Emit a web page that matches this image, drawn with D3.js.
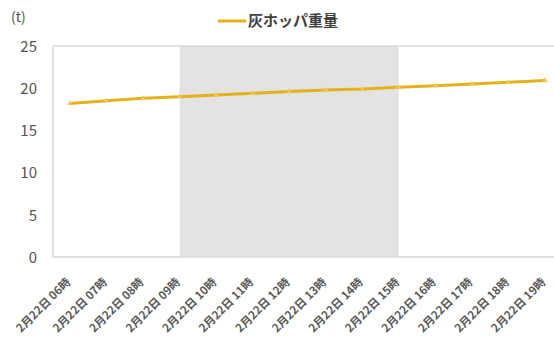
<!DOCTYPE html>
<html>
<head>
<meta charset="utf-8">
<script src="https://cdn.jsdelivr.net/npm/d3@7/dist/d3.min.js"></script>
<style>
  html, body { margin: 0; padding: 0; background: #fff; }
  svg { display: block; }
  text { font-family: "Noto Sans CJK JP", "Noto Sans", sans-serif; }
</style>
</head>
<body>
<svg id="chart" width="554" height="338"></svg>
<script>
// Hourly readings on 22 Feb
const hours = ["06", "07", "08", "09", "10", "11", "12", "13", "14", "15", "16", "17", "18", "19"];
const categories = hours.map(h => `2月22日 ${h}時`);
const weights = [18.2, 18.5, 18.8, 19.0, 19.2, 19.4, 19.6, 19.8, 19.9, 20.1, 20.3, 20.5, 20.7, 20.9];
const yTicks = [0, 5, 10, 15, 20, 25];
const seriesName = "灰ホッパ重量";
const unitLabel = "(t)";
// Shaded period
const shadeFrom = "2月22日 09時";
const shadeTo = "2月22日 15時";

const width = 554, height = 338;
const plot = { left: 53, right: 554, top: 46, bottom: 257 };

const svg = d3.select("#chart");

const x = d3.scalePoint()
  .domain(categories)
  .range([plot.left + 17, plot.right - 9]);

const y = d3.scaleLinear()
  .domain([0, 25])
  .range([plot.bottom, plot.top]);

// shaded period band
svg.append("rect")
  .attr("x", x(shadeFrom))
  .attr("y", plot.top)
  .attr("width", x(shadeTo) - x(shadeFrom))
  .attr("height", plot.bottom - plot.top)
  .attr("fill", "#e4e2e2");

// frame lines
const frame = svg.append("g").attr("stroke", "#d9d9d9").attr("stroke-width", 1.5);
frame.append("line").attr("x1", plot.left).attr("x2", plot.right).attr("y1", plot.top).attr("y2", plot.top);
frame.append("line").attr("x1", plot.left).attr("x2", plot.right).attr("y1", plot.bottom).attr("y2", plot.bottom);
frame.append("line").attr("x1", plot.left).attr("x2", plot.left).attr("y1", plot.top).attr("y2", plot.bottom);

// y axis labels
const yAxis = d3.axisLeft(y).tickValues(yTicks).tickSize(0).tickPadding(0);
const yg = svg.append("g")
  .attr("transform", `translate(${plot.left - 16},0)`)
  .call(yAxis);
yg.select(".domain").remove();
yg.selectAll("text")
  .attr("fill", "#555")
  .attr("font-size", 15)
  .attr("dy", "0.35em");

svg.append("text")
  .attr("x", 11).attr("y", 17)
  .attr("dy", "0.35em")
  .attr("fill", "#555")
  .attr("font-size", 14)
  .text(unitLabel);

// x axis labels
const xAxis = d3.axisBottom(x).tickSize(0).tickPadding(0);
const xg = svg.append("g")
  .attr("transform", `translate(0,${plot.bottom + 8})`)
  .call(xAxis);
xg.select(".domain").remove();
xg.selectAll("text")
  .attr("fill", "#595959")
  .attr("font-size", 11.5)
  .attr("font-weight", "bold")
  .attr("text-anchor", "end")
  .attr("dy", "0.35em")
  .attr("transform", "translate(-2,15) rotate(-45)");

// series line
const line = d3.line()
  .x((d, i) => x(categories[i]))
  .y(d => y(d));

svg.append("path")
  .datum(weights)
  .attr("fill", "none")
  .attr("stroke", "#e3b21b")
  .attr("stroke-width", 3)
  .attr("d", line);

svg.append("g")
  .selectAll("path")
  .data(weights)
  .join("path")
  .attr("transform", (d, i) => `translate(${x(categories[i])},${y(d)})`)
  .attr("d", d3.symbol(d3.symbolTriangle, 14))
  .attr("fill", "#edc85a");

// legend
const lg = svg.append("g");
lg.append("line")
  .attr("x1", 218).attr("x2", 246)
  .attr("y1", 21).attr("y2", 21)
  .attr("stroke", "#e3b21b").attr("stroke-width", 3);
lg.append("text")
  .attr("x", 248).attr("y", 21)
  .attr("dy", "0.35em")
  .attr("fill", "#404040")
  .attr("font-size", 15)
  .attr("font-weight", "bold")
  .text(seriesName);
</script>
</body>
</html>
